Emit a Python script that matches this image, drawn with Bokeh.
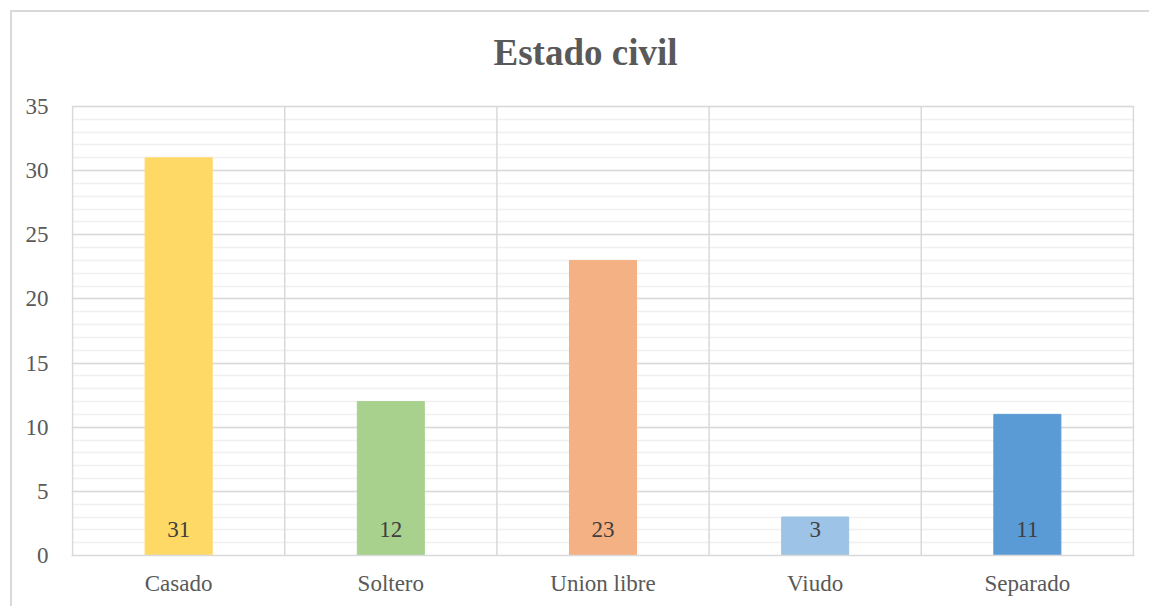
from bokeh.plotting import figure
from bokeh.models import Range1d, FixedTicker, ColumnDataSource, Label
from bokeh.embed import file_html
from bokeh.resources import INLINE

categories = ["Casado", "Soltero", "Union libre", "Viudo", "Separado"]
values = [31, 12, 23, 3, 11]
colors = ["#FFD966", "#A9D18E", "#F4B183", "#9DC3E6", "#5B9BD5"]
y_ticks = [0, 5, 10, 15, 20, 25, 30, 35]
title_text = "Estado civil"

n = len(categories)
xs = [i + 0.5 for i in range(n)]
src = ColumnDataSource(dict(x=xs, top=values, color=colors,
                            label=[str(v) for v in values], zero=[0] * n))
bounds = list(range(n + 1))
vsrc = ColumnDataSource(dict(x=bounds, y0=[y_ticks[0]] * len(bounds),
                             y1=[y_ticks[-1]] * len(bounds)))

FONT = "Liberation Serif"

# frame spans from the top of the chart area down to the axis; the
# upper part holds the title (plot area height 449px for 35 units)
y_top = y_ticks[-1] * 543 / 449

p = figure(width=1139, height=596, output_backend="svg", toolbar_location=None,
           x_range=Range1d(-0.005, n + 0.005), y_range=Range1d(0, y_top),
           min_border_left=59, min_border_right=17, min_border_top=0, min_border_bottom=53)
p.styles = {"margin-left": "10px", "margin-top": "10px",
            "border-top": "2px solid #d9d9d9", "border-left": "2px solid #d9d9d9"}
p.outline_line_color = None

# vertical separators / plot-area sides
p.segment(x0="x", y0="y0", x1="x", y1="y1", source=vsrc,
          line_color="#d9d9d9", line_width=1.5)

p.vbar(x="x", top="top", width=0.316, color="color", source=src)
p.text(x="x", y="zero", text="label", source=src, text_align="center",
       text_baseline="alphabetic", y_offset=-26, text_font_size="23px",
       text_color="#404040", text_font={"value": FONT})

title = Label(x=514, y=503, x_units="screen", y_units="screen", text=title_text,
              text_align="center", text_baseline="middle", text_font=FONT,
              text_font_size="37px", text_font_style="bold", text_color="#595959")
p.add_layout(title)

# y axis
p.yaxis.ticker = FixedTicker(ticks=y_ticks, minor_ticks=list(range(y_ticks[0], y_ticks[-1] + 1)))
p.yaxis.axis_line_color = None
p.yaxis.major_tick_line_color = None
p.yaxis.minor_tick_line_color = None
p.yaxis.major_label_standoff = 17
p.yaxis.major_label_text_font = FONT
p.yaxis.major_label_text_font_size = "23px"
p.yaxis.major_label_text_color = "#595959"

# x axis
p.xaxis.ticker = FixedTicker(ticks=xs)
p.xaxis.major_label_overrides = {x: c for x, c in zip(xs, categories)}
p.xaxis.axis_line_color = "#d9d9d9"
p.xaxis.axis_line_width = 1.5
p.xaxis.major_tick_line_color = None
p.xaxis.minor_tick_line_color = None
p.xaxis.major_label_standoff = 9
p.xaxis.major_label_text_font = FONT
p.xaxis.major_label_text_font_size = "23px"
p.xaxis.major_label_text_color = "#595959"

# grids
p.ygrid.grid_line_color = "#d9d9d9"
p.ygrid.grid_line_width = 1.5
p.ygrid.minor_grid_line_color = "#f0f0f0"
p.ygrid.minor_grid_line_width = 1.5
p.xgrid.grid_line_color = None

open("out.html", "w").write(file_html(p, INLINE))
